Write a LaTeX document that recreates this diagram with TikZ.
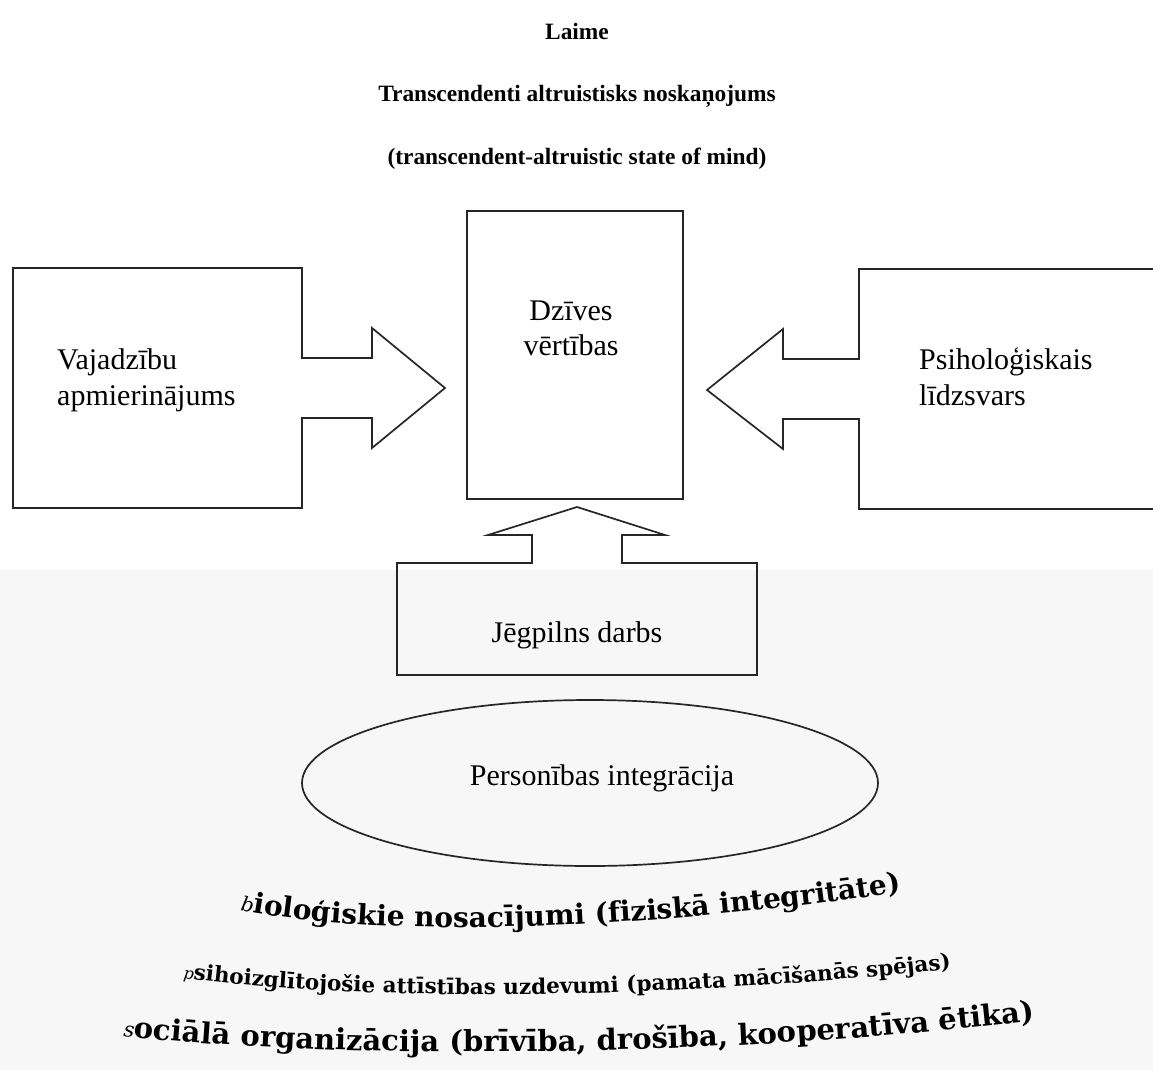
\documentclass[tikz,border=0pt]{standalone}
\usepackage{fontspec}
\setmainfont{Liberation Serif}
\newfontfamily\wordartfont{DejaVu Serif}
\usetikzlibrary{shapes.geometric,decorations.text,calc}

\begin{document}
\begin{tikzpicture}[x=1pt,y=-1pt,
  outline/.style={draw=black!85, line width=1.7pt, line join=miter},
  region/.style={inner sep=0pt, outer sep=0pt},
  boxlabel/.style={font=\fontsize{30}{36}\selectfont, inner sep=0pt, anchor=base west},
  centerlabel/.style={font=\fontsize{30}{36}\selectfont, inner sep=0pt, anchor=base},
  heading/.style={font=\bfseries\fontsize{23.4}{28}\selectfont, inner sep=0pt, anchor=base},
]
\useasboundingbox (0,0) rectangle (1153,1070);
% light grey lower half of the page
\fill[black!3] (0,570) rectangle (1153,1070);

% headings
\node[heading] (laime) at (577,40) {Laime};
\node[heading] (state) at (577,102) {Transcendenti altruistisks noskaņojums};
\node[heading] (stateen) at (577,164) {(transcendent-altruistic state of mind)};

% central box
\node[region, draw=black!85, line width=1.7pt, minimum width=216, minimum height=288] (values) at (575,355) {};
\node[centerlabel] (values1) at (571,320) {Dzīves};
\node[centerlabel] (values2) at (571,355) {vērtības};

% left box with block arrow towards the centre
\node[region, minimum width=289, minimum height=240] (needs) at (157.5,388) {};
\draw[outline] (needs.north west) -- (needs.north east)
  -- ($(needs.east)+(0,-30)$) -- ++(70,0) -- ++(0,-30) -- ++(73,60)
  -- ++(-73,60) -- ++(0,-30) -- ($(needs.east)+(0,30)$)
  -- (needs.south east) -- (needs.south west) -- cycle;
\node[boxlabel] (needs1) at (57,369) {Vajadzību};
\node[boxlabel] (needs2) at (57,405) {apmierinājums};

% right box with block arrow towards the centre
\node[region, minimum width=301, minimum height=240] (balance) at (1009.5,389) {};
\draw[outline] (balance.north east) -- (balance.north west)
  -- ($(balance.west)+(0,-30)$) -- ++(-76,0) -- ++(0,-30) -- ++(-76,61)
  -- ++(76,59) -- ++(0,-30) -- ($(balance.west)+(0,30)$)
  -- (balance.south west) -- (balance.south east);
\node[boxlabel] (balance1) at (919,369) {Psiholoģiskais};
\node[boxlabel] (balance2) at (919,405) {līdzsvars};

% lower box with block arrow pointing up
\node[region, minimum width=360, minimum height=112] (work) at (577,619) {};
\draw[outline] (work.north west) -- ($(work.north)+(-45,0)$)
  -- ++(0,-28) -- ++(-44,0) -- ++(89,-28) -- ++(88,28) -- ++(-43,0) -- ++(0,28)
  -- (work.north east) -- (work.south east) -- (work.south west) -- cycle;
\node[centerlabel] (worklabel) at (577,642) {Jēgpilns darbs};

% ellipse
\node[region, ellipse, draw=black!85, line width=1.7pt, minimum width=576, minimum height=166] (integ) at (590,783) {};
\node[centerlabel] (integlabel) at (602,785) {Personības integrācija};

% arched lines of text
\path[decorate, decoration={text along path,
  text={|\wordartfont\itshape\fontsize{20}{20}\selectfont|b|\wordartfont\bfseries\fontsize{28}{28}\selectfont|ioloģiskie nosacījumi (fiziskā integritāte)}}]
  (240,910) .. controls (380,938) and (640,935) .. (980,880);
\path[decorate, decoration={text along path,
  text={|\wordartfont\itshape\fontsize{16}{16}\selectfont|p|\wordartfont\bfseries\fontsize{21.5}{21.5}\selectfont|sihoizglītojošie attīstības uzdevumi (pamata mācīšanās spējas)}}]
  (183,978) .. controls (350,1002) and (700,1003) .. (1040,958);
\path[decorate, decoration={text along path,
  text={|\wordartfont\itshape\fontsize{21}{21}\selectfont|s|\wordartfont\bfseries\fontsize{29}{29}\selectfont|ociālā organizācija (brīvība, drošība, kooperatīva ētika)}}]
  (123,1036) .. controls (330,1060) and (760,1060) .. (1100,1012);
\end{tikzpicture}
\end{document}
